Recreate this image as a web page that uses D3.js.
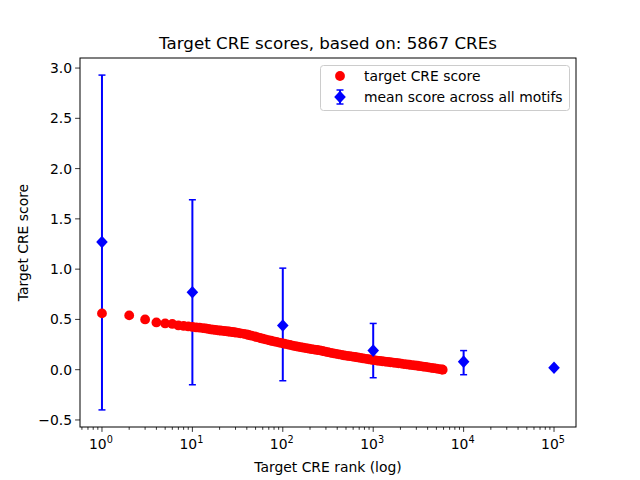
<!DOCTYPE html>
<html>
<head>
<meta charset="utf-8">
<script src="https://cdn.jsdelivr.net/npm/d3@7"></script>
<style>
  body { margin: 0; background: #fff; }
  text { font-family: "DejaVu Sans", sans-serif; }
</style>
</head>
<body>
<div id="chart"></div>
<script>
// red points: target CRE score by rank
const ranks = [1, 2, 3, 4, 5, 6, 7, 8, 9, 10,
  11, 12, 13, 14, 15, 16, 17, 18, 19, 20, 21, 22, 23, 24, 25, 26, 27, 28, 29, 30,
  32, 34, 37, 40, 42, 45, 49, 52, 56, 60, 64, 69, 74, 79, 85, 91, 97, 104, 112, 120,
  128, 138, 147, 158, 169, 182, 195, 209, 224, 240, 257, 275, 295, 316, 339, 363, 389,
  417, 447, 479, 513, 550, 589, 631, 676, 724, 776, 832, 891, 955, 1023, 1096, 1175,
  1259, 1349, 1445, 1549, 1660, 1778, 1905, 2042, 2188, 2344, 2512, 2692, 2884, 3090,
  3311, 3548, 3802, 4074, 4365, 4677, 5012, 5370, 5754, 5867];
const scores = [0.56, 0.54, 0.50, 0.47, 0.46, 0.455, 0.44, 0.435, 0.43, 0.425,
  0.42, 0.418, 0.414, 0.41, 0.405, 0.40, 0.398, 0.395, 0.392, 0.39, 0.388, 0.386, 0.384, 0.382, 0.38, 0.378, 0.376, 0.374, 0.372, 0.37,
  0.366, 0.362, 0.357, 0.35, 0.345, 0.338, 0.33, 0.323, 0.315, 0.308, 0.302, 0.295, 0.288, 0.282, 0.276, 0.27, 0.264, 0.258, 0.252, 0.246,
  0.24, 0.234, 0.229, 0.224, 0.219, 0.214, 0.209, 0.204, 0.2, 0.196, 0.192, 0.186, 0.18, 0.174, 0.168, 0.162, 0.157,
  0.152, 0.147, 0.142, 0.138, 0.134, 0.13, 0.126, 0.122, 0.117, 0.112, 0.108, 0.104, 0.099, 0.095, 0.091, 0.087,
  0.084, 0.08, 0.077, 0.074, 0.07, 0.067, 0.064, 0.06, 0.056, 0.053, 0.049, 0.046, 0.042, 0.039,
  0.035, 0.031, 0.027, 0.023, 0.019, 0.015, 0.011, 0.006, 0.002, 0.0];

// blue diamonds: mean score across all motifs with error bars
const meanRanks = [1, 10, 100, 1000, 10000, 100000];
const meanScores = [1.27, 0.77, 0.44, 0.19, 0.08, 0.02];
const errLow = [-0.40, -0.15, -0.11, -0.08, -0.05, 0.02];
const errHigh = [2.93, 1.69, 1.01, 0.46, 0.19, 0.02];

const yTicks = [-0.5, 0.0, 0.5, 1.0, 1.5, 2.0, 2.5, 3.0];
const xTicks = [1, 10, 100, 1000, 10000, 100000];

const W = 640, H = 480;
const mLeft = 80, mRight = 576, mTop = 58, mBottom = 427;

const svg = d3.select("#chart").append("svg")
  .attr("width", W).attr("height", H);

const x = d3.scaleLog().domain([Math.pow(10, -0.243), Math.pow(10, 5.243)]).range([mLeft, mRight]);
const y = d3.scaleLinear().domain([-0.57, 3.1]).range([mBottom, mTop]);

// error bars (drawn under the red points)
const eb = svg.append("g");
meanRanks.forEach(function(r, i) {
  if (errHigh[i] - errLow[i] < 0.001) return;
  const cx = x(r);
  eb.append("line").attr("x1", cx).attr("x2", cx)
    .attr("y1", y(errLow[i])).attr("y2", y(errHigh[i]))
    .attr("stroke", "#0000ff").attr("stroke-width", 2);
  [errLow[i], errHigh[i]].forEach(function(v) {
    eb.append("line").attr("x1", cx - 3.5).attr("x2", cx + 3.5)
      .attr("y1", y(v)).attr("y2", y(v))
      .attr("stroke", "#0000ff").attr("stroke-width", 1.5);
  });
});

// red points
svg.append("g").selectAll("circle")
  .data(ranks)
  .enter()
  .append("circle")
  .attr("cx", function(d) { return x(d); })
  .attr("cy", function(d, i) { return y(scores[i]); })
  .attr("r", 4.9)
  .attr("fill", "#ff0000");

// diamonds
const diamond = "M0,-6.3L5.8,0L0,6.3L-5.8,0Z";
svg.append("g").selectAll("path")
  .data(meanRanks)
  .enter()
  .append("path")
  .attr("d", diamond)
  .attr("transform", function(d, i) { return "translate(" + x(d) + "," + y(meanScores[i]) + ")"; })
  .attr("fill", "#0000ff");

// axes frame
svg.append("rect").attr("x", mLeft).attr("y", mTop)
  .attr("width", mRight - mLeft).attr("height", mBottom - mTop)
  .attr("fill", "none").attr("stroke", "#000").attr("stroke-width", 1);

// x axis (log, with minor ticks)
const xAxis = svg.append("g");
const minor = [];
for (let e = -1; e <= 5; e++) {
  for (let m = 2; m <= 9; m++) {
    const v = m * Math.pow(10, e);
    if (v > x.domain()[0] && v < x.domain()[1]) minor.push(v);
  }
}
xAxis.selectAll("line.minor").data(minor).enter().append("line")
  .attr("x1", d => x(d)).attr("x2", d => x(d))
  .attr("y1", mBottom).attr("y2", mBottom + 2.8)
  .attr("stroke", "#000").attr("stroke-width", 0.8);
xAxis.selectAll("line.major").data(xTicks).enter().append("line")
  .attr("x1", d => x(d)).attr("x2", d => x(d))
  .attr("y1", mBottom).attr("y2", mBottom + 4.9)
  .attr("stroke", "#000").attr("stroke-width", 0.8);
xTicks.forEach(function(t, i) {
  const tx = xAxis.append("text")
    .attr("x", x(t) - 1).attr("y", mBottom + 22)
    .attr("text-anchor", "middle")
    .attr("font-size", 13.9);
  tx.append("tspan").text("10");
  tx.append("tspan").attr("dy", -6).attr("font-size", 9.7).text(String(i));
});

// y axis
const yAxis = svg.append("g");
yTicks.forEach(function(t) {
  yAxis.append("line").attr("x1", mLeft - 4.9).attr("x2", mLeft)
    .attr("y1", y(t)).attr("y2", y(t))
    .attr("stroke", "#000").attr("stroke-width", 0.8);
  yAxis.append("text")
    .attr("x", mLeft - 8).attr("y", y(t) + 5)
    .attr("text-anchor", "end")
    .attr("font-size", 13.9)
    .text(d3.format(".1f")(t).replace("-", "\u2212"));
});

// labels
svg.append("text").attr("x", (mLeft + mRight) / 2).attr("y", 49)
  .attr("text-anchor", "middle").attr("font-size", 16.7)
  .text("Target CRE scores, based on: 5867 CREs");
svg.append("text").attr("x", (mLeft + mRight) / 2).attr("y", 472)
  .attr("text-anchor", "middle").attr("font-size", 13.9)
  .text("Target CRE rank (log)");
svg.append("text")
  .attr("transform", "translate(28," + ((mTop + mBottom) / 2) + ") rotate(-90)")
  .attr("text-anchor", "middle").attr("font-size", 13.9)
  .text("Target CRE score");

// legend
const lg = svg.append("g");
lg.append("rect").attr("x", 320.5).attr("y", 65.5).attr("width", 249).attr("height", 45)
  .attr("rx", 3).attr("fill", "#fff").attr("fill-opacity", 0.8)
  .attr("stroke", "#cccccc").attr("stroke-width", 1);
lg.append("circle").attr("cx", 340).attr("cy", 76).attr("r", 4.9).attr("fill", "#ff0000");
lg.append("text").attr("x", 364).attr("y", 81).attr("font-size", 13.9).text("target CRE score");
lg.append("line").attr("x1", 340).attr("x2", 340).attr("y1", 90).attr("y2", 104)
  .attr("stroke", "#0000ff").attr("stroke-width", 2);
lg.append("line").attr("x1", 336.5).attr("x2", 343.5).attr("y1", 104).attr("y2", 104)
  .attr("stroke", "#0000ff").attr("stroke-width", 1.5);
lg.append("line").attr("x1", 336.5).attr("x2", 343.5).attr("y1", 90).attr("y2", 90)
  .attr("stroke", "#0000ff").attr("stroke-width", 1.5);
lg.append("path").attr("d", diamond).attr("transform", "translate(340,97)").attr("fill", "#0000ff");
lg.append("text").attr("x", 364).attr("y", 102).attr("font-size", 13.9).text("mean score across all motifs");
</script>
</body>
</html>
